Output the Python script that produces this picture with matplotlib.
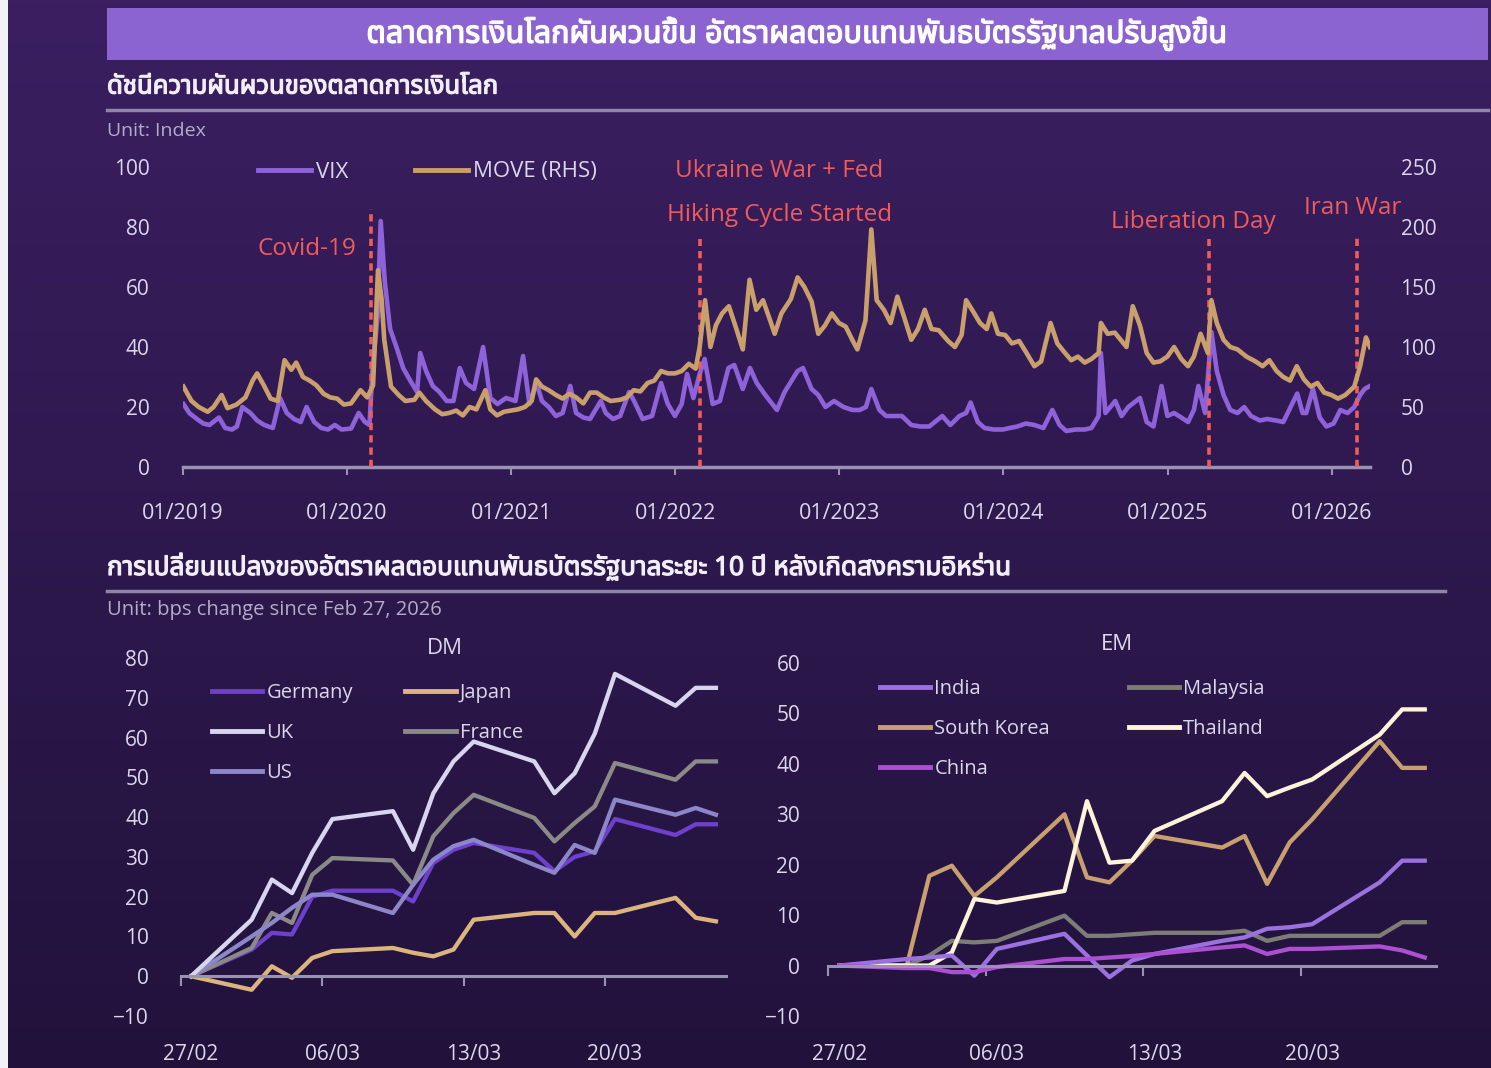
import matplotlib
matplotlib.use("Agg")
import matplotlib.pyplot as plt
import matplotlib.dates as mdates
import matplotlib.patheffects as pe
from matplotlib.colors import LinearSegmentedColormap
from matplotlib.patches import Rectangle
from matplotlib.lines import Line2D
from matplotlib import font_manager as fm
import numpy as np
import pandas as pd

# ---------------------------------------------------------------- data
vix_dates = ["2019-01-02", "2019-01-15", "2019-02-01", "2019-02-15", "2019-03-01", "2019-03-22",
             "2019-04-05", "2019-04-20", "2019-05-01", "2019-05-13", "2019-05-31", "2019-06-15",
             "2019-07-01", "2019-07-20", "2019-08-05", "2019-08-20", "2019-09-05", "2019-09-20",
             "2019-10-03", "2019-10-20", "2019-11-05", "2019-11-20", "2019-12-05", "2019-12-20",
             "2020-01-10", "2020-01-27", "2020-02-10", "2020-02-20", "2020-02-27", "2020-03-09",
             "2020-03-16", "2020-03-25", "2020-04-06", "2020-04-20", "2020-05-05", "2020-05-20",
             "2020-06-05", "2020-06-12", "2020-06-25", "2020-07-10", "2020-07-25", "2020-08-10",
             "2020-08-25", "2020-09-08", "2020-09-22", "2020-10-10", "2020-10-30", "2020-11-15",
             "2020-12-01", "2020-12-20", "2021-01-10", "2021-01-27", "2021-02-10", "2021-02-26",
             "2021-03-10", "2021-03-25", "2021-04-10", "2021-04-25", "2021-05-12", "2021-05-25",
             "2021-06-10", "2021-06-25", "2021-07-19", "2021-07-30", "2021-08-15", "2021-08-31",
             "2021-09-20", "2021-10-01", "2021-10-20", "2021-11-10", "2021-11-30", "2021-12-15",
             "2021-12-31", "2022-01-15", "2022-01-27", "2022-02-10", "2022-02-24", "2022-03-07",
             "2022-03-25", "2022-04-10", "2022-04-29", "2022-05-12", "2022-05-31", "2022-06-16",
             "2022-07-01", "2022-07-20", "2022-08-15", "2022-09-01", "2022-09-30", "2022-10-12",
             "2022-10-31", "2022-11-15", "2022-12-01", "2022-12-20", "2023-01-10", "2023-01-30",
             "2023-02-15", "2023-03-01", "2023-03-13", "2023-03-31", "2023-04-15", "2023-05-01",
             "2023-05-20", "2023-06-10", "2023-06-30", "2023-07-20", "2023-08-18", "2023-09-05",
             "2023-09-25", "2023-10-10", "2023-10-20", "2023-11-05", "2023-11-20", "2023-12-10",
             "2023-12-31", "2024-01-15", "2024-02-01", "2024-02-20", "2024-03-10", "2024-03-30",
             "2024-04-19", "2024-05-05", "2024-05-20", "2024-06-10", "2024-06-30", "2024-07-15",
             "2024-07-31", "2024-08-05", "2024-08-15", "2024-09-06", "2024-09-20", "2024-10-05",
             "2024-10-31", "2024-11-15", "2024-11-30", "2024-12-18", "2024-12-31", "2025-01-15",
             "2025-01-31", "2025-02-15", "2025-02-28", "2025-03-10", "2025-03-25", "2025-04-08",
             "2025-04-20", "2025-05-05", "2025-05-20", "2025-06-05", "2025-06-20", "2025-07-05",
             "2025-07-25", "2025-08-10", "2025-08-30", "2025-09-15", "2025-10-16", "2025-10-28",
             "2025-11-05", "2025-11-20", "2025-12-05", "2025-12-20", "2026-01-05", "2026-01-20",
             "2026-02-05", "2026-02-20", "2026-03-05", "2026-03-15", "2026-03-27"]
vix_values = [21, 18, 16, 14.5, 14, 16.5,
              13, 12.5, 13.5, 20, 18, 15.5,
              14, 13, 23, 18, 16, 15,
              20, 15, 13, 12.5, 14, 12.5,
              12.8, 18, 15, 14, 33, 50,
              82, 62, 46, 40, 33, 29,
              25, 38, 32, 27, 25, 22,
              22, 33, 28, 26, 40, 23,
              21, 23, 22, 37, 21, 28,
              22, 20, 17, 18, 27, 18,
              16.5, 16, 22, 18, 16, 17,
              25, 22, 16, 17, 28, 21,
              17, 21, 31, 23, 31, 36,
              21, 22, 33, 34, 26, 33,
              28, 24, 19, 25, 32, 33,
              26, 24, 20, 22, 20, 19,
              19, 20, 26, 19, 17, 17,
              17, 14, 13.5, 13.5, 17, 14,
              17, 18, 21.5, 15, 13, 12.5,
              12.5, 13, 13.5, 14.5, 14, 13,
              19, 14, 12, 12.5, 12.5, 13,
              17, 38, 18, 22, 17, 20,
              23, 15, 13.5, 27, 17, 18,
              16.5, 15, 19, 27, 18, 45,
              32, 24, 19, 18, 20, 17,
              15.5, 16, 15.5, 15, 24.5, 18,
              18, 26, 16.5, 13.5, 14.5, 19,
              18, 20, 24, 26, 27]

move_dates = ["2019-01-02", "2019-01-20", "2019-02-05", "2019-02-25", "2019-03-10", "2019-03-28",
              "2019-04-10", "2019-04-30", "2019-05-20", "2019-06-05", "2019-06-15", "2019-06-30",
              "2019-07-15", "2019-07-31", "2019-08-15", "2019-08-30", "2019-09-10", "2019-09-25",
              "2019-10-10", "2019-10-25", "2019-11-10", "2019-11-25", "2019-12-10", "2019-12-25",
              "2020-01-10", "2020-01-31", "2020-02-15", "2020-02-28", "2020-03-10", "2020-03-18",
              "2020-03-24", "2020-04-08", "2020-04-25", "2020-05-10", "2020-05-30", "2020-06-10",
              "2020-06-25", "2020-07-15", "2020-07-31", "2020-08-15", "2020-08-31", "2020-09-15",
              "2020-09-30", "2020-10-15", "2020-11-04", "2020-11-15", "2020-11-30", "2020-12-15",
              "2020-12-31", "2021-01-15", "2021-01-31", "2021-02-15", "2021-02-25", "2021-03-10",
              "2021-03-25", "2021-04-10", "2021-04-25", "2021-05-10", "2021-05-25", "2021-06-10",
              "2021-06-25", "2021-07-10", "2021-07-25", "2021-08-10", "2021-08-31", "2021-09-15",
              "2021-09-30", "2021-10-15", "2021-10-31", "2021-11-15", "2021-11-30", "2021-12-15",
              "2021-12-31", "2022-01-15", "2022-01-31", "2022-02-15", "2022-02-24", "2022-03-08",
              "2022-03-20", "2022-04-01", "2022-04-15", "2022-04-30", "2022-05-15", "2022-05-31",
              "2022-06-15", "2022-06-30", "2022-07-15", "2022-07-31", "2022-08-10", "2022-08-25",
              "2022-09-15", "2022-09-30", "2022-10-15", "2022-10-31", "2022-11-15", "2022-11-30",
              "2022-12-15", "2022-12-31", "2023-01-15", "2023-01-31", "2023-02-10", "2023-02-28",
              "2023-03-13", "2023-03-25", "2023-04-10", "2023-04-25", "2023-05-10", "2023-05-25",
              "2023-06-10", "2023-06-25", "2023-07-10", "2023-07-25", "2023-08-10", "2023-08-31",
              "2023-09-15", "2023-09-30", "2023-10-10", "2023-10-25", "2023-11-10", "2023-11-25",
              "2023-12-05", "2023-12-20", "2024-01-05", "2024-01-20", "2024-02-05", "2024-02-20",
              "2024-03-10", "2024-03-25", "2024-04-15", "2024-04-30", "2024-05-15", "2024-05-31",
              "2024-06-15", "2024-06-30", "2024-07-15", "2024-07-31", "2024-08-05", "2024-08-20",
              "2024-09-05", "2024-09-20", "2024-10-01", "2024-10-15", "2024-10-31", "2024-11-15",
              "2024-11-30", "2024-12-15", "2024-12-31", "2025-01-15", "2025-01-31", "2025-02-15",
              "2025-02-28", "2025-03-15", "2025-03-31", "2025-04-08", "2025-04-20", "2025-05-05",
              "2025-05-20", "2025-06-05", "2025-06-25", "2025-07-15", "2025-07-31", "2025-08-15",
              "2025-08-31", "2025-09-15", "2025-09-30", "2025-10-15", "2025-10-31", "2025-11-15",
              "2025-11-30", "2025-12-15", "2025-12-31", "2026-01-15", "2026-01-31", "2026-02-20",
              "2026-03-05", "2026-03-18", "2026-03-27"]
move_values = [67, 55, 50, 46, 50, 60,
               49, 52, 58, 72, 78, 68,
               57, 55, 89, 81, 87, 75,
               72, 68, 61, 58, 57, 52,
               53, 64, 58, 68, 164, 140,
               106, 67, 60, 55, 56, 62,
               55, 48, 44, 45, 47, 43,
               50, 48, 64, 48, 43, 46,
               47, 48, 50, 55, 73, 67,
               64, 60, 57, 61, 58, 53,
               62, 62, 58, 55, 56, 58,
               64, 63, 70, 72, 80, 78,
               78, 80, 86, 82, 100, 139,
               100, 118, 128, 134, 117, 98,
               156, 131, 139, 122, 111, 128,
               140, 158, 150, 138, 111, 118,
               128, 120, 117, 105, 98, 122,
               198, 139, 131, 120, 142, 125,
               106, 115, 131, 115, 114, 105,
               100, 110, 139, 130, 120, 115,
               128, 111, 110, 103, 105, 96,
               84, 88, 120, 103, 96, 89,
               92, 87, 90, 95, 120, 111,
               112, 105, 100, 134, 118, 95,
               87, 88, 92, 100, 90, 84,
               92, 111, 95, 139, 120, 106,
               100, 98, 92, 88, 84, 89,
               80, 75, 72, 84, 73, 67,
               70, 62, 60, 57, 60, 67,
               84, 108, 100]

event_dates = ["2020-02-24", "2022-02-24", "2025-04-02", "2026-02-27"]
event_tops = [86, 76, 76, 77]

bond_dates = ["2026-02-27", "2026-03-02", "2026-03-03", "2026-03-04", "2026-03-05", "2026-03-06",
              "2026-03-09", "2026-03-10", "2026-03-11", "2026-03-12", "2026-03-13", "2026-03-16",
              "2026-03-17", "2026-03-18", "2026-03-19", "2026-03-20", "2026-03-23", "2026-03-24",
              "2026-03-25"]
germany = [0, 6.7, 10.9, 10.5, 20, 21.5, 21.5, 18.8, 28.5, 31.8, 33.5, 31, 26.4, 30, 31.4, 39.5, 35.5, 38.2, 38.2]
japan = [0, -3.4, 2.5, -0.4, 4.6, 6.3, 7.1, 5.9, 5, 6.7, 14.2, 15.9, 15.9, 10, 15.9, 15.9, 19.7, 14.7, 13.8]
uk = [0, 14.2, 24.3, 20.9, 31, 39.5, 41.5, 31.8, 46, 54, 59, 54, 46, 51, 61, 76, 68, 72.5, 72.5]
france = [0, 7.1, 15.9, 13.4, 25.5, 29.7, 29.1, 23, 35.2, 41, 45.6, 39.8, 33.9, 38.5, 42.7, 53.6, 49.4, 54, 54]
us = [0, 10, 13.4, 17.2, 20.5, 20.5, 15.9, 23, 29.3, 32.7, 34.3, 28, 26, 33, 31, 44.4, 40.6, 42.3, 40.6]

india = [0, 1.3, 1.6, 2, -2, 3.3, 6.3, 2, -2.3, 1, 2.3, 4.9, 5.6, 7.3, 7.6, 8.2, 16.5, 20.8, 20.8]
malaysia = [0, 0, 2, 4.9, 4.6, 4.9, 9.9, 5.9, 5.9, 6.2, 6.5, 6.5, 6.9, 4.9, 5.9, 5.9, 5.9, 8.6, 8.6]
south_korea = [0, 0, 17.8, 19.8, 13.8, 17.5, 30, 17.5, 16.5, 20.8, 25.7, 23.4, 25.7, 16.2, 24.4, 29, 44.5, 39.2, 39.2]
thailand = [0, 0, 0, 2.6, 13.2, 12.5, 14.8, 32.6, 20.4, 20.8, 26.7, 32.6, 38.2, 33.6, 35.3, 36.9, 45.8, 50.8, 50.8]
china = [0, -0.5, -0.5, -1.3, -1.3, -0.3, 1.3, 1.3, 1.6, 1.9, 2.3, 3.6, 4, 2.3, 3.3, 3.3, 3.8, 3, 1.6]

top_yticks_left = [0, 20, 40, 60, 80, 100]
top_yticks_right = [0, 50, 100, 150, 200, 250]
dm_yticks = [-10, 0, 10, 20, 30, 40, 50, 60, 70, 80]
em_yticks = [-10, 0, 10, 20, 30, 40, 50, 60]
bond_label_dates = ["2026-02-27", "2026-03-06", "2026-03-13", "2026-03-20"]

# ---------------------------------------------------------------- fonts
def find_thai_font():
    try:
        from fontTools.ttLib import TTFont
    except Exception:
        return None
    found = []
    for f in fm.fontManager.ttflist:
        try:
            tt = TTFont(f.fname, fontNumber=0, lazy=True)
            cm = tt.getBestCmap() or {}
            if 0x0E01 in cm and 0x0E34 in cm and 0x0E48 in cm:
                found.append(f.name)
        except Exception:
            pass
    if not found:
        return None
    for pref in ["Noto Sans Thai", "Noto Sans Thai UI", "Sarabun", "Tahoma", "Leelawadee"]:
        if pref in found:
            return pref
    return sorted(set(found))[0]

THAI = find_thai_font()
LAT = ["Open Sans", "DejaVu Sans"]
THF = ([THAI] if THAI else []) + LAT
plt.rcParams["font.family"] = LAT

# ---------------------------------------------------------------- style
W, H = 1491, 1068
BG_TOP, BG_BOT = "#3b1f61", "#21123b"
BANNER = "#8b64d1"
TXT = "#dcd7ec"
UNIT = "#b4acc8"
AXC = "#9a92b2"
RED = "#ef5c5c"
C_VIX, C_MOVE = "#8e62d9", "#c9a06c"
C_DE, C_JP, C_UK, C_FR, C_US = "#6d41cc", "#dcb57e", "#d9d5ee", "#8b8a86", "#8b87c8"
C_IN, C_MY, C_KR, C_TH, C_CN = "#9a72e0", "#7d7d75", "#c8a070", "#fff4da", "#aa50d0"


def fx(px):
    return px / W


def fy(py):
    return 1 - py / H


def bold(col, w=0.9):
    return [pe.withStroke(linewidth=w, foreground=col)]


fig = plt.figure(figsize=(W / 100, H / 100), dpi=100)

# background
bg = fig.add_axes([0, 0, 1, 1], zorder=-10)
bg.set_xlim(0, W)
bg.set_ylim(H, 0)
bg.axis("off")
cmap = LinearSegmentedColormap.from_list("bg", [BG_TOP, BG_BOT])
bg.imshow(np.linspace(0, 1, 256).reshape(-1, 1), extent=[0, W, H, 0], cmap=cmap, aspect="auto")
bg.add_patch(Rectangle((0, 0), 8, H, color="#f2f1f5", lw=0))
bg.add_patch(Rectangle((107, 8), 1381, 52, color=BANNER, lw=0))
bg.plot([107, 1488], [110, 110], color="#8e86a8", lw=2.5)
bg.plot([107, 1445], [591, 591], color="#8e86a8", lw=2.5)

fig.text(fx(797), fy(34), "ตลาดการเงินโลกผันผวนขึ้น อัตราผลตอบแทนพันธบัตรรัฐบาลปรับสูงขึ้น",
         family=THF, fontsize=22, fontweight="bold", color="white", ha="center", va="center",
         path_effects=bold("white", 1.0))
fig.text(fx(107), fy(87), "ดัชนีความผันผวนของตลาดการเงินโลก", family=THF, fontsize=18.5,
         fontweight="bold", color="#f2eef9", ha="left", va="center", path_effects=bold("#f2eef9"))
fig.text(fx(107), fy(131), "Unit: Index", fontsize=14, color=UNIT, ha="left", va="center")
fig.text(fx(107), fy(567), "การเปลี่ยนแปลงของอัตราผลตอบแทนพันธบัตรรัฐบาลระยะ 10 ปี หลังเกิดสงครามอิหร่าน",
         family=THF, fontsize=18.8, fontweight="bold", color="#f2eef9", ha="left", va="center",
         path_effects=bold("#f2eef9"))
fig.text(fx(107), fy(610), "Unit: bps change since Feb 27, 2026", fontsize=14.5, color=UNIT,
         ha="left", va="center")

# ---------------------------------------------------------------- top chart
vd = pd.to_datetime(vix_dates)
md = pd.to_datetime(move_dates)
ed = pd.to_datetime(event_dates)

ax1 = fig.add_axes([fx(183), fy(467), fx(1370 - 183), 300 / H])
ax1.set_facecolor("none")
ax1.plot(vd, vix_values, color=C_VIX, lw=3.3, solid_joinstyle="round", label="VIX")
ax1.vlines(ed, 0, event_tops, colors=RED, linestyles=(0, (2.0, 1.4)), lw=2.6, zorder=5)
ax1.set_ylim(0, 100)
ax1.set_yticks(top_yticks_left)
ax1.set_xlim(pd.Timestamp("2019-01-01"), pd.Timestamp("2026-03-27"))
ax1.xaxis.set_major_locator(mdates.YearLocator())
ax1.xaxis.set_major_formatter(mdates.DateFormatter("%m/%Y"))
for s in ["top", "right", "left"]:
    ax1.spines[s].set_visible(False)
ax1.spines["bottom"].set_color(AXC)
ax1.spines["bottom"].set_linewidth(2.5)
ax1.tick_params(axis="x", length=6, width=1.5, color=AXC, labelsize=15.5, labelcolor=TXT, pad=20)
ax1.tick_params(axis="y", length=0, labelsize=15, labelcolor=TXT, pad=24)

ax1r = ax1.twinx()
ax1r.plot(md, move_values, color=C_MOVE, lw=3.3, solid_joinstyle="round", label="MOVE (RHS)")
ax1r.set_ylim(0, 250)
ax1r.set_yticks(top_yticks_right)
for s in ["top", "right", "left", "bottom"]:
    ax1r.spines[s].set_visible(False)
ax1r.tick_params(axis="y", length=0, labelsize=15, labelcolor=TXT, pad=22)

ann = dict(color=RED, fontsize=17.5, ha="center", va="center", zorder=6)
ax1.text(pd.Timestamp("2019-10-03"), 72.6, "Covid-19", **ann)
ax1.text(pd.Timestamp("2022-08-20"), 98.7, "Ukraine War + Fed", **ann)
ax1.text(pd.Timestamp("2022-08-20"), 84.0, "Hiking Cycle Started", **ann)
ax1.text(pd.Timestamp("2025-02-26"), 81.7, "Liberation Day", **ann)
ax1.text(pd.Timestamp("2026-02-17"), 86.3, "Iran War", **ann)

h1 = [Line2D([], [], color=C_VIX, lw=3.5), Line2D([], [], color=C_MOVE, lw=3.5)]
fig.legend(h1, ["VIX", "MOVE (RHS)"], loc="center left", bbox_to_anchor=(fx(258), fy(172)),
           ncol=2, frameon=False, fontsize=16, labelcolor=TXT, handlelength=2.4,
           handletextpad=0.2, columnspacing=3.0, borderpad=0, borderaxespad=0)

# ---------------------------------------------------------------- bottom charts
bd = pd.to_datetime(bond_dates)
bnum = mdates.date2num(bd)
lab_num = mdates.date2num(pd.to_datetime(bond_label_dates))


def setup_bond_axes(ax, yticks, ypad):
    ax.set_facecolor("none")
    ax.set_ylim(yticks[0], yticks[-1])
    ax.set_yticks(yticks)
    ax.set_xlim(bnum[0] - 0.5, bnum[-1] + 0.5)
    for s in ["top", "right", "left"]:
        ax.spines[s].set_visible(False)
    ax.spines["bottom"].set_position(("data", 0))
    ax.spines["bottom"].set_color(AXC)
    ax.spines["bottom"].set_linewidth(2.2)
    ax.set_xticks(lab_num - 0.5)
    ax.tick_params(axis="x", length=7, width=1.5, color=AXC, labelbottom=False)
    ax.tick_params(axis="y", length=0, labelsize=15, labelcolor=TXT, pad=ypad)
    sec = ax.secondary_xaxis("bottom")
    sec.set_xticks(lab_num)
    sec.set_xticklabels([pd.Timestamp(d).strftime("%d/%m") for d in bond_label_dates])
    sec.tick_params(length=0, labelsize=15, labelcolor=TXT, pad=20)
    sec.spines["bottom"].set_visible(False)


# DM
axd = fig.add_axes([fx(181), fy(1016), fx(726 - 181), (1016 - 658) / H])
setup_bond_axes(axd, dm_yticks, 23)
dm_series = [("Germany", germany, C_DE), ("UK", uk, C_UK), ("US", us, C_US),
             ("Japan", japan, C_JP), ("France", france, C_FR)]
for name, vals, col in [dm_series[0], dm_series[3], dm_series[4], dm_series[2], dm_series[1]]:
    axd.plot(bnum, vals, color=col, lw=3.1, solid_joinstyle="round")
fig.text(fx(445), fy(648), "DM", fontsize=16, color=TXT, ha="center", va="center")
hd = [Line2D([], [], color=c, lw=3.5) for _, _, c in dm_series]
fig.legend(hd, [n for n, _, _ in dm_series], loc="center left", bbox_to_anchor=(fx(212), fy(733)),
           ncol=2, frameon=False, fontsize=14.5, labelcolor=TXT, handlelength=2.5,
           handletextpad=0.2, columnspacing=2.6, labelspacing=1.0, borderpad=0, borderaxespad=0)

# EM
axe = fig.add_axes([fx(828), fy(1016), fx(1436 - 828), (1016 - 663) / H])
setup_bond_axes(axe, em_yticks, 20)
em_series = [("India", india, C_IN), ("South Korea", south_korea, C_KR), ("China", china, C_CN),
             ("Malaysia", malaysia, C_MY), ("Thailand", thailand, C_TH)]
for name, vals, col in [em_series[3], em_series[1], em_series[4], em_series[0], em_series[2]]:
    axe.plot(bnum, vals, color=col, lw=3.1, solid_joinstyle="round")
fig.text(fx(1117), fy(645), "EM", fontsize=16, color=TXT, ha="center", va="center")
he = [Line2D([], [], color=c, lw=3.5) for _, _, c in em_series]
fig.legend(he, [n for n, _, _ in em_series], loc="center left", bbox_to_anchor=(fx(880), fy(729)),
           ncol=2, frameon=False, fontsize=14.5, labelcolor=TXT, handlelength=2.5,
           handletextpad=0.2, columnspacing=3.9, labelspacing=1.0, borderpad=0, borderaxespad=0)

fig.savefig("out.png", dpi=100)
